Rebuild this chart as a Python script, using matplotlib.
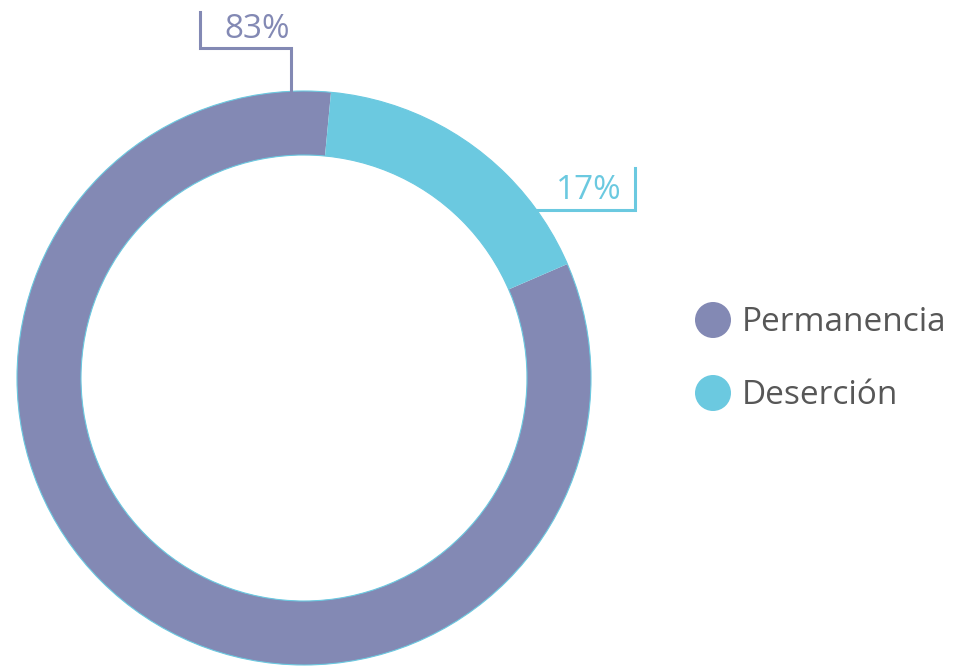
#!/usr/bin/env python3
"""
Donut chart: Permanencia vs Deserción
"""

import matplotlib.pyplot as plt
from matplotlib.patches import Circle

W, H = 956, 668

categories = ['Permanencia', 'Deserción']
shares = [83, 17]
pct_labels = ['83%', '17%']
colors = ['#8389b4', '#6bc9e0']
TEXT_COLOR = '#575757'


def main():
    plt.rcParams['font.family'] = ['Open Sans', 'DejaVu Sans']
    fig = plt.figure(figsize=(W / 100, H / 100), dpi=100)
    ax = fig.add_axes([0, 0, 1, 1])

    # pixel coords, y measured from the top
    cx, cy = 304, H - 378
    r_out, ring = 287, 64

    ax.pie(shares, colors=colors, startangle=84.6, counterclock=True,
           center=(cx, cy), radius=r_out,
           wedgeprops=dict(width=ring, linewidth=0))
    # thin cyan outline on both edges of the ring
    for r in (r_out, r_out - ring):
        ax.add_patch(Circle((cx, cy), r, fill=False, ec=colors[1], lw=0.8))

    # leader lines and percentage labels
    ax.plot([291, 291, 200, 200], [H - 92, H - 48, H - 48, H - 12],
            color=colors[0], lw=2.2, solid_joinstyle='miter')
    ax.text(257, H - 38, pct_labels[0], color=colors[0], fontsize=24,
            ha='center', va='baseline')
    ax.plot([528, 635, 635], [H - 210, H - 210, H - 168],
            color=colors[1], lw=2.2, solid_joinstyle='miter')
    ax.text(589, H - 199, pct_labels[1], color=colors[1], fontsize=24,
            ha='center', va='baseline')

    # legend
    for i, (name, col) in enumerate(zip(categories, colors)):
        y = H - (320 + 73 * i)
        ax.add_patch(Circle((713, y), 18, color=col, lw=0))
        ax.text(742, y - 11, name, color=TEXT_COLOR, fontsize=24,
                ha='left', va='baseline')

    ax.set_xlim(0, W)
    ax.set_ylim(0, H)
    ax.set_aspect('equal')
    ax.axis('off')
    fig.savefig('out.png', dpi=100, facecolor='white')


if __name__ == '__main__':
    main()
